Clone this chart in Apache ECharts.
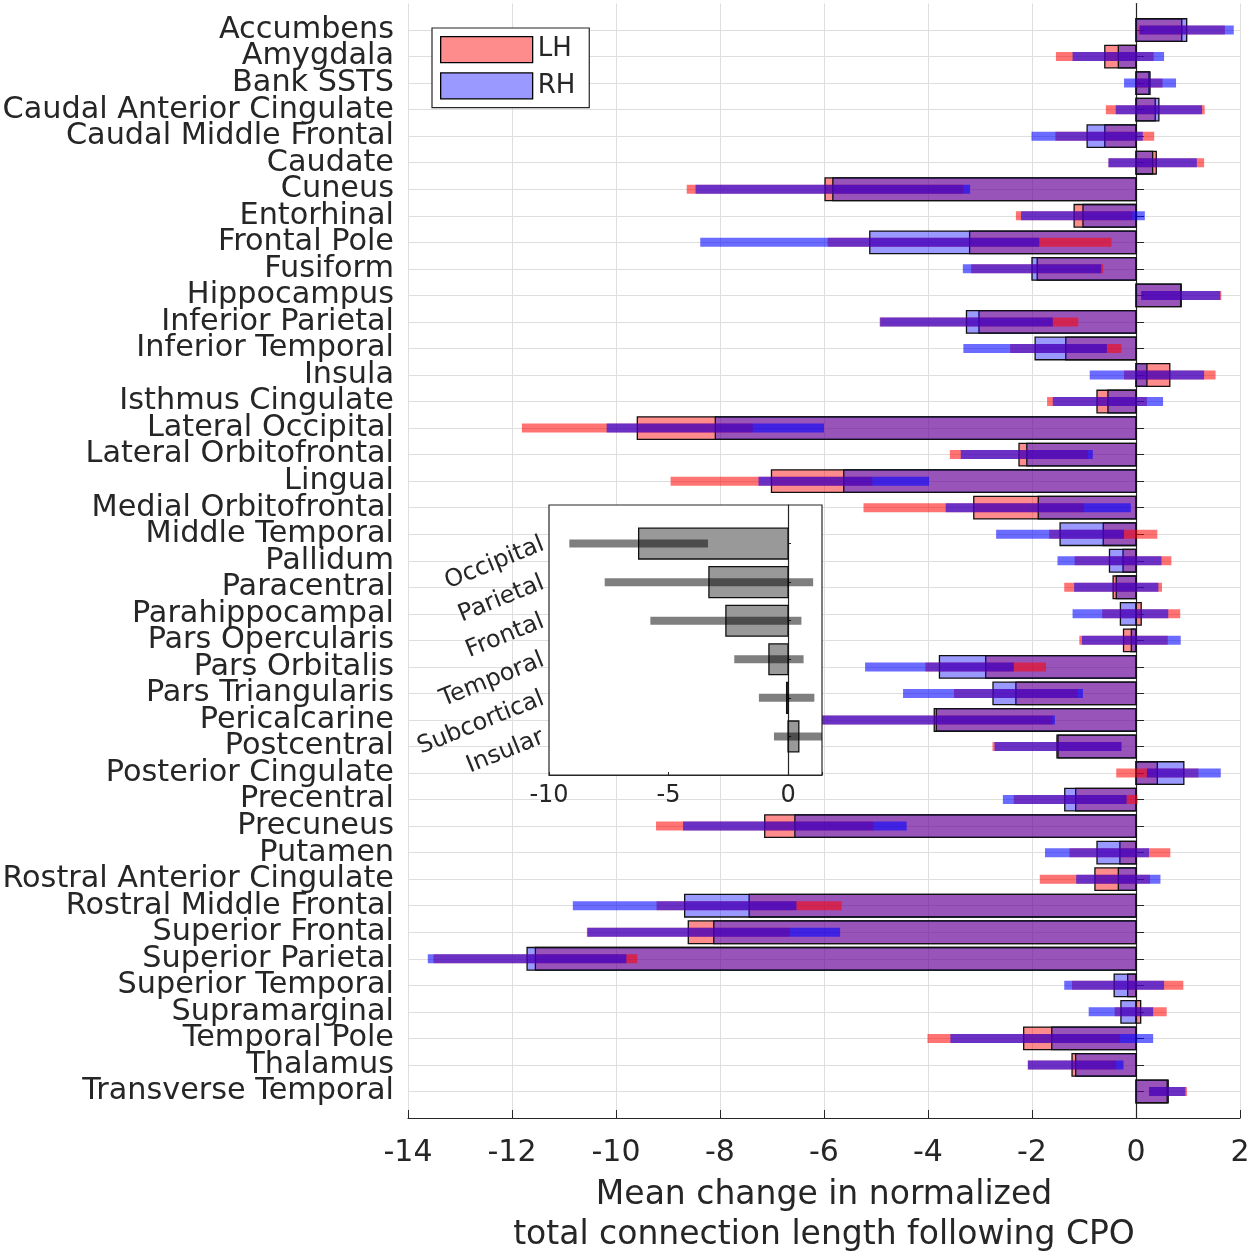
<!DOCTYPE html>
<html><head><meta charset="utf-8">
<script src="https://cdn.jsdelivr.net/npm/echarts@6/dist/echarts.min.js"></script>
<style>html,body{margin:0;padding:0;background:#fff}#c{width:1250px;height:1255px}</style>
</head><body><div id="c"></div>
<script>
const regions = ['Accumbens','Amygdala','Bank SSTS','Caudal Anterior Cingulate','Caudal Middle Frontal','Caudate','Cuneus','Entorhinal','Frontal Pole','Fusiform','Hippocampus','Inferior Parietal','Inferior Temporal','Insula','Isthmus Cingulate','Lateral Occipital','Lateral Orbitofrontal','Lingual','Medial Orbitofrontal','Middle Temporal','Pallidum','Paracentral','Parahippocampal','Pars Opercularis','Pars Orbitalis','Pars Triangularis','Pericalcarine','Postcentral','Posterior Cingulate','Precentral','Precuneus','Putamen','Rostral Anterior Cingulate','Rostral Middle Frontal','Superior Frontal','Superior Parietal','Superior Temporal','Supramarginal','Temporal Pole','Thalamus','Transverse Temporal'];
const lhMean = [0.88,-0.60,0.25,0.37,-0.60,0.39,-5.98,-1.19,-3.20,-1.90,0.87,-3.02,-1.35,0.65,-0.75,-9.59,-2.25,-7.01,-3.12,-0.63,-0.25,-0.44,0.10,-0.24,-2.89,-2.31,-3.88,-1.52,0.41,-1.16,-7.14,-0.31,-0.79,-7.44,-8.61,-11.55,-0.16,0.09,-2.16,-1.23,0.62];
const lhErr  = [0.83,0.94,0.26,0.95,0.95,0.92,2.66,1.12,2.73,1.27,0.77,1.91,1.07,0.88,0.96,2.22,1.33,1.94,2.12,1.04,0.93,0.94,0.75,0.85,1.16,1.19,2.27,1.24,0.79,1.19,2.09,0.97,1.06,1.78,1.95,1.96,1.07,0.50,1.85,0.85,0.36];
const rhMean = [0.975,-0.34,0.27,0.44,-0.94,0.32,-5.83,-1.02,-5.12,-2.00,0.86,-3.26,-1.94,0.21,-0.54,-8.09,-2.10,-5.62,-1.88,-1.46,-0.51,-0.38,-0.30,-0.09,-3.78,-2.75,-3.84,-1.50,0.92,-1.37,-6.56,-0.75,-0.34,-8.68,-8.12,-11.71,-0.42,-0.29,-1.62,-1.16,0.60];
const rhErr  = [0.905,0.88,0.50,0.83,1.07,0.85,2.64,1.19,3.26,1.33,0.76,1.66,1.38,1.10,1.06,2.09,1.27,1.64,1.78,1.23,1.00,0.81,0.92,0.95,1.43,1.73,2.28,1.22,0.71,1.19,2.15,1.00,0.81,2.15,2.43,1.91,0.96,0.62,1.95,0.92,0.35];
const lobes = ['Occipital','Parietal','Frontal','Temporal','Subcortical','Insular'];
const lobeMean = [-6.25,-3.31,-2.60,-0.80,-0.06,0.45];
const lobeErr  = [2.90,4.36,3.16,1.45,1.16,1.04];

const FONT = 'DejaVu Sans';
const TXT = '#262626';
const yCats = [''].concat(regions, ['']);
const iCats = [''].concat(lobes, ['']);
const innerMain = (i) => i > 0 && i < yCats.length - 1;
const innerInset = (i) => i > 0 && i < iCats.length - 1;

function clip(r, cs) {
  return echarts.graphic.clipRectByRect(r, {x: cs.x, y: cs.y, width: cs.width, height: cs.height});
}
function barRender(fill, frac, stroke, lw) {
  return function (params, api) {
    const c = api.value(1);
    const a = api.coord([0, c]);
    const b = api.coord([api.value(0), c]);
    const h = api.size([0, 1])[1] * frac;
    const r = clip({x: Math.min(a[0], b[0]), y: a[1] - h / 2, width: Math.abs(b[0] - a[0]), height: h}, params.coordSys);
    if (!r) return null;
    return {type: 'rect', shape: r, style: {fill: fill, stroke: stroke, lineWidth: lw}};
  };
}
function errRender(fill, px) {
  return function (params, api) {
    const c = api.value(1), m = api.value(0), e = api.value(2);
    const a = api.coord([m - e, c]);
    const b = api.coord([m + e, c]);
    const r = clip({x: Math.min(a[0], b[0]), y: a[1] - px / 2, width: Math.abs(b[0] - a[0]), height: px}, params.coordSys);
    if (!r) return null;
    return {type: 'rect', shape: r, style: {fill: fill}};
  };
}
const barData = (m) => m.map((v, i) => [v, i + 1]);
const errData = (m, e) => m.map((v, i) => [v, i + 1, e[i]]);

const LHB = 'rgba(255,0,0,0.45)', RHB = 'rgba(0,0,255,0.4)';
const LHE = 'rgba(255,0,0,0.55)', RHE = 'rgba(0,0,255,0.58)';

const chart = echarts.init(document.getElementById('c'), null, {renderer: 'canvas'});
chart.setOption({
  animation: false,
  backgroundColor: '#fff',
  textStyle: {fontFamily: FONT},
  legend: {
    left: 432, top: 28, orient: 'vertical',
    padding: [8, 14, 8, 8], itemGap: 9, itemWidth: 92, itemHeight: 26,
    backgroundColor: '#fff', borderColor: TXT, borderWidth: 1.2,
    selectedMode: false, icon: 'rect',
    textStyle: {fontSize: 26, color: TXT, fontFamily: FONT},
    data: [
      {name: 'LH', itemStyle: {color: LHB, borderColor: '#000', borderWidth: 1.3}},
      {name: 'RH', itemStyle: {color: RHB, borderColor: '#000', borderWidth: 1.3}}
    ]
  },
  grid: [
    {left: 408, right: 10, top: 3.5, bottom: 137, containLabel: false, outerBoundsMode: 'none'},
    {left: 549, top: 505, width: 273, height: 270, show: true, backgroundColor: '#fff', borderColor: TXT, borderWidth: 1.2, zlevel: 1, outerBoundsMode: 'none'}
  ],
  xAxis: [
    {
      type: 'value', gridIndex: 0, min: -14, max: 2, interval: 2,
      axisLine: {show: true, lineStyle: {color: TXT, width: 1.2}},
      axisTick: {show: true, inside: true, length: 8, lineStyle: {color: TXT}},
      splitLine: {show: true, lineStyle: {color: '#dedede', width: 1}},
      axisLabel: {fontSize: 30, color: TXT, margin: 20, fontFamily: FONT},
      name: 'Mean change in normalized\ntotal connection length following CPO',
      nameLocation: 'middle', nameGap: 57,
      nameTextStyle: {fontSize: 33, lineHeight: 40, color: TXT, fontFamily: FONT}
    },
    {
      type: 'value', gridIndex: 1, min: -10, max: 1.42, interval: 5, zlevel: 1,
      axisLine: {show: true, lineStyle: {color: TXT, width: 1.2}},
      axisTick: {show: true, inside: true, length: 3, lineStyle: {color: TXT}},
      splitLine: {show: false},
      axisLabel: {fontSize: 24, color: TXT, margin: 9, fontFamily: FONT,
        formatter: (v) => (Math.abs(v % 5) < 1e-9 ? String(v) : '')}
    }
  ],
  yAxis: [
    {
      type: 'category', gridIndex: 0, data: yCats, inverse: true, boundaryGap: false,
      axisLine: {show: true, lineStyle: {color: TXT, width: 1.2}},
      axisTick: {show: true, inside: true, length: 8, interval: innerMain, lineStyle: {color: TXT}},
      splitLine: {show: true, interval: innerMain, lineStyle: {color: '#dedede', width: 1}},
      axisLabel: {interval: 0, fontSize: 30.3, color: TXT, margin: 14, fontFamily: FONT, padding: [6, 0, 0, 0]}
    },
    {
      type: 'category', gridIndex: 1, data: iCats, inverse: true, boundaryGap: false, zlevel: 1,
      axisLine: {show: true, lineStyle: {color: TXT, width: 1.2}},
      axisTick: {show: true, inside: true, length: 3, interval: innerInset, lineStyle: {color: TXT}},
      splitLine: {show: false},
      axisLabel: {interval: 0, fontSize: 24, color: TXT, margin: 6, rotate: 22, fontFamily: FONT}
    }
  ],
  series: [
    {name: 'LH', type: 'custom', xAxisIndex: 0, yAxisIndex: 0, encode: {x: 0, y: 1},
      itemStyle: {color: LHB}, renderItem: barRender(LHB, 0.85, '#111', 1.3), data: barData(lhMean)},
    {name: 'RH', type: 'custom', xAxisIndex: 0, yAxisIndex: 0, encode: {x: 0, y: 1},
      itemStyle: {color: RHB}, renderItem: barRender(RHB, 0.85, '#111', 1.3), data: barData(rhMean)},
    {name: 'LH err', type: 'custom', xAxisIndex: 0, yAxisIndex: 0, encode: {x: 0, y: 1},
      renderItem: errRender(LHE, 9), data: errData(lhMean, lhErr)},
    {name: 'RH err', type: 'custom', xAxisIndex: 0, yAxisIndex: 0, encode: {x: 0, y: 1},
      renderItem: errRender(RHE, 9), data: errData(rhMean, rhErr)},
    {name: 'Lobe', type: 'custom', xAxisIndex: 1, yAxisIndex: 1, zlevel: 1, encode: {x: 0, y: 1},
      renderItem: barRender('rgba(0,0,0,0.4)', 0.8, '#111', 1.3), data: barData(lobeMean)},
    {name: 'Lobe err', type: 'custom', xAxisIndex: 1, yAxisIndex: 1, zlevel: 1, encode: {x: 0, y: 1},
      renderItem: errRender('rgba(0,0,0,0.5)', 8), data: errData(lobeMean, lobeErr)}
  ]
});
</script></body></html>
